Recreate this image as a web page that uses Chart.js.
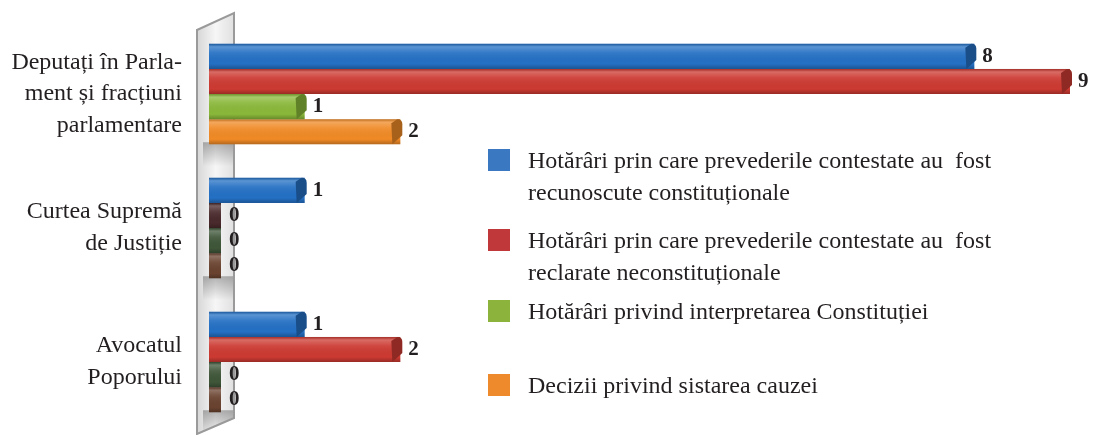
<!DOCTYPE html>
<html>
<head>
<meta charset="utf-8">
<script src="https://cdn.jsdelivr.net/npm/chart.js@4.4.1/dist/chart.umd.min.js"></script>
<style>
  html, body { margin: 0; padding: 0; background: #fff; }
  #wrap { position: relative; width: 1093px; height: 435px; }
  #legend { position: absolute; left: 488px; top: 0; font-family: 'Liberation Serif', 'DejaVu Serif', serif; font-size: 24px; color: #231f20; }
  .lg-item { position: absolute; left: 0; white-space: pre; line-height: 32px; }
  .lg-box { position: absolute; left: 0; top: 5px; width: 22px; height: 22px; }
  .lg-text { position: absolute; left: 40px; top: 0; }
</style>
</head>
<body>
<div id="wrap">
  <canvas id="chart" width="1093" height="435"></canvas>
  <div id="legend"></div>
</div>
<script>
  // Categories (y axis), split into lines as in the original
  const categories = [
    ['Deputați în Parla-', 'ment și fracțiuni', 'parlamentare'],
    ['Curtea Supremă', 'de Justiție'],
    ['Avocatul', 'Poporului']
  ];

  // Series names (legend), one entry per line
  const seriesNames = [
    ['Hotărâri prin care prevederile contestate au  fost', 'recunoscute constituționale'],
    ['Hotărâri prin care prevederile contestate au  fost', 'reclarate neconstituționale'],
    ['Hotărâri privind interpretarea Constituției'],
    ['Decizii privind sistarea cauzei']
  ];

  // Series values, per category
  const recunoscute = [8, 1, 1];
  const neconstitutionale = [9, 0, 2];
  const interpretare = [1, 0, 0];
  const sistare = [2, 0, 0];

  const seriesColors = ['#2470c4', '#cc3a32', '#8ab83a', '#f08a26'];
  const legendColors = ['#3a78c2', '#c0383a', '#8cb43c', '#ee8a2c'];
  const zeroColors = ['#2a3e5c', '#4a2a2c', '#3f5639', '#6a4330'];
  const legendTops = [144, 224, 295, 369];

  // Build HTML legend
  const legendEl = document.getElementById('legend');
  seriesNames.forEach((lines, i) => {
    const item = document.createElement('div');
    item.className = 'lg-item';
    item.style.top = legendTops[i] + 'px';
    item.innerHTML = `<span class="lg-box" style="background:${legendColors[i]}"></span>` +
      `<span class="lg-text">${lines.join('\n')}</span>`;
    legendEl.appendChild(item);
  });

  function shade(hex, f) {
    const n = parseInt(hex.slice(1), 16);
    let r = (n >> 16) & 255, g = (n >> 8) & 255, b = n & 255;
    if (f < 0) { r *= 1 + f; g *= 1 + f; b *= 1 + f; }
    else { r += (255 - r) * f; g += (255 - g) * f; b += (255 - b) * f; }
    return `rgb(${Math.round(r)},${Math.round(g)},${Math.round(b)})`;
  }

  // Grey back wall behind the bars, with soft shadows under each group
  const wallPlugin = {
    id: 'wall',
    beforeDatasetsDraw(chart) {
      const ctx = chart.ctx;
      const x0 = chart.chartArea.left - 12, x1 = chart.chartArea.left + 25;
      ctx.save();
      const g = ctx.createLinearGradient(x0, 0, x1, 0);
      g.addColorStop(0, '#d6d6d6');
      g.addColorStop(0.5, '#f6f6f6');
      g.addColorStop(1, '#e0e0e0');
      ctx.beginPath();
      ctx.moveTo(x0, 30);
      ctx.lineTo(x1, 13);
      ctx.lineTo(x1, 418);
      ctx.lineTo(x0, 434);
      ctx.closePath();
      ctx.fillStyle = g;
      ctx.fill();
      ctx.clip();
      // shadow band under each category group
      const first = chart.getDatasetMeta(0).data;
      const last = chart.getDatasetMeta(chart.data.datasets.length - 1).data;
      first.forEach((bar, i) => {
        const b = last[i].y + last[i].height / 2;
        const sg = ctx.createLinearGradient(0, b - 2, 0, b + 22);
        sg.addColorStop(0, 'rgba(0,0,0,0.28)');
        sg.addColorStop(1, 'rgba(0,0,0,0)');
        ctx.fillStyle = sg;
        ctx.fillRect(x0 + 6, b - 2, x1 - x0 - 6, 24);
      });
      ctx.restore();
      ctx.save();
      ctx.beginPath();
      ctx.moveTo(x0, 30);
      ctx.lineTo(x1, 13);
      ctx.lineTo(x1, 418);
      ctx.lineTo(x0, 434);
      ctx.closePath();
      ctx.strokeStyle = '#9a9a9a';
      ctx.lineWidth = 2;
      ctx.stroke();
      ctx.restore();
    }
  };

  // 3D-ish shading and value labels on the bars
  const barDecor = {
    id: 'barDecor',
    afterDatasetsDraw(chart) {
      const ctx = chart.ctx;
      ctx.save();
      chart.data.datasets.forEach((ds, di) => {
        const meta = chart.getDatasetMeta(di);
        meta.data.forEach((bar, i) => {
          const v = ds.data[i];
          const top = bar.y - bar.height / 2, bot = bar.y + bar.height / 2;
          const left = bar.base, right = bar.x;
          const base = v === 0 ? zeroColors[di] : seriesColors[di];
          // highlight / shadow gradient
          const g = ctx.createLinearGradient(0, top, 0, bot);
          g.addColorStop(0, 'rgba(0,0,0,0.18)');
          g.addColorStop(0.12, 'rgba(255,255,255,0.25)');
          g.addColorStop(0.35, 'rgba(255,255,255,0.08)');
          g.addColorStop(0.8, 'rgba(0,0,0,0)');
          g.addColorStop(1, 'rgba(0,0,0,0.25)');
          ctx.fillStyle = g;
          ctx.fillRect(left, top, right - left, bot - top);
          // darker bevel at the right end
          if (v > 0) {
            ctx.beginPath();
            ctx.moveTo(right - 9, top + 4);
            ctx.lineTo(right - 3, top);
            ctx.quadraticCurveTo(right + 2, top, right + 2, top + 5);
            ctx.lineTo(right + 2, bot - 9);
            ctx.lineTo(right - 8, bot);
            ctx.closePath();
            ctx.fillStyle = shade(base, -0.3);
            ctx.fill();
          }
          // value label
          ctx.fillStyle = '#231f20';
          ctx.font = 'bold 21px "Liberation Serif", serif';
          ctx.textAlign = 'left';
          ctx.textBaseline = 'middle';
          ctx.fillText(String(v), right + 8, bar.y);
        });
      });
      ctx.restore();
    }
  };

  const allSeries = [recunoscute, neconstitutionale, interpretare, sistare];

  new Chart(document.getElementById('chart').getContext('2d'), {
    type: 'bar',
    data: {
      labels: categories,
      datasets: allSeries.map((vals, i) => ({
        label: seriesNames[i].join(' '),
        data: vals,
        backgroundColor: ctx => (ctx.raw === 0 ? zeroColors[i] : seriesColors[i]),
        borderWidth: 0,
        minBarLength: 12,
        categoryPercentage: 0.75,
        barPercentage: 1
      }))
    },
    options: {
      indexAxis: 'y',
      responsive: false,
      animation: false,
      layout: { padding: { top: 27, bottom: 6, left: 0, right: 23 } },
      scales: {
        x: { display: false, min: 0, max: 9 },
        y: {
          grid: { display: false },
          border: { display: false },
          afterFit(scale) {
            scale.width = 209;
            scale.paddingTop = 0;
            scale.paddingBottom = 0;
          },
          ticks: {
            padding: 19,
            color: '#231f20',
            font: { family: '"Liberation Serif", serif', size: 24, lineHeight: 1.32 }
          }
        }
      },
      plugins: {
        legend: { display: false },
        tooltip: { enabled: false }
      }
    },
    plugins: [wallPlugin, barDecor]
  });
</script>
</body>
</html>
